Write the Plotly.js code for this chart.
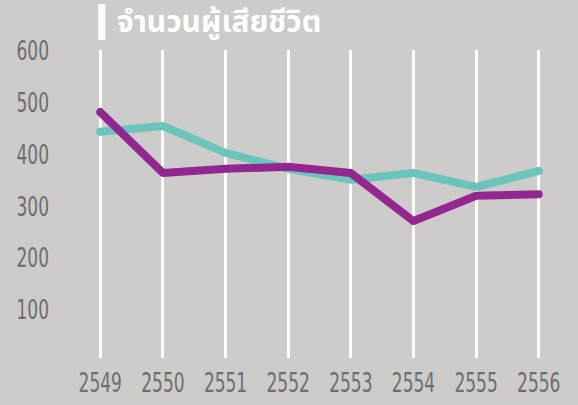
<!DOCTYPE html>
<html><head><meta charset="utf-8">
<script src="https://cdn.plot.ly/plotly-3.0.1.min.js"></script>
<style>html,body{margin:0;padding:0;background:#cdccca;}#c{width:578px;height:405px;}</style>
</head><body><div id="c"></div>
<script>
const years = ['2549','2550','2551','2552','2553','2554','2555','2556'];
const tealValues = [444, 455, 403, 372, 351, 364, 337, 368];
const purpleValues = [482, 364, 372, 376, 364, 271, 320, 323];
const yTicks = [100, 200, 300, 400, 500, 600];
const titleText = 'จำนวนผู้เสียชีวิต';

const xIdx = years.map((_, i) => i);
const tickFont = {family: '"Liberation Sans Narrow", "DejaVu Sans Condensed", Roboto, sans-serif', size: 27, color: '#6e6e6e'};

const data = [
  {x: xIdx, y: tealValues, mode: 'lines', line: {color: '#6cc5bb', width: 8}, hoverinfo: 'skip'},
  {x: xIdx, y: purpleValues, mode: 'lines', line: {color: '#92278f', width: 8}, hoverinfo: 'skip'}
];
const layout = {
  width: 578, height: 405,
  margin: {l: 93.7, r: 32.7, t: 50, b: 47, pad: 0},
  paper_bgcolor: '#cdccca', plot_bgcolor: '#cdccca',
  showlegend: false,
  xaxis: {range: [-0.1, 7.1], tickvals: xIdx, ticktext: years, tickangle: 0, showgrid: true, gridcolor: '#ffffff', gridwidth: 3,
          zeroline: false, showline: false, ticks: '', tickfont: tickFont, ticklabelstandoff: 6, fixedrange: true},
  yaxis: {range: [6, 602], tickvals: yTicks, showgrid: false, zeroline: false, showline: false, ticks: '',
          tickfont: tickFont, ticklabelstandoff: 44, fixedrange: true},
  shapes: [{type: 'rect', xref: 'paper', yref: 'paper', x0: 0.0095, x1: 0.025, y0: 1.032, y1: 1.149,
            fillcolor: '#ffffff', line: {width: 0}}],
  annotations: [{text: '<b>' + titleText + '</b>', xref: 'paper', yref: 'paper', x: 0.047, y: 1.088,
                 xanchor: 'left', yanchor: 'middle', showarrow: false,
                 font: {family: '"Noto Sans Thai", "Noto Sans", sans-serif', size: 30, color: '#ffffff'}}]
};
Plotly.newPlot('c', data, layout, {staticPlot: true}).then(() => {
  document.querySelectorAll('.scatterlayer path.js-line').forEach(p => {
    p.style.strokeLinecap = 'round'; p.style.strokeLinejoin = 'round';
  });
  document.querySelectorAll('.xtick text, .ytick text').forEach(t => {
    const w = t.getComputedTextLength();
    t.setAttribute('textLength', (w * 0.7).toFixed(1));
    t.setAttribute('lengthAdjust', 'spacingAndGlyphs');
  });
});
</script></body></html>
